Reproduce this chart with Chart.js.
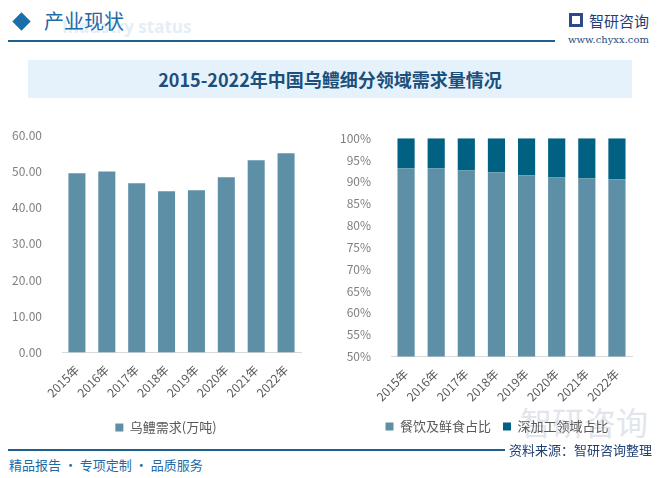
<!DOCTYPE html>
<html>
<head>
<meta charset="utf-8">
<script src="https://cdn.jsdelivr.net/npm/chart.js@4/dist/chart.umd.min.js"></script>
<style>
    html, body {
        margin: 0;
        padding: 0;
        width: 661px;
        height: 478px;
        background: #ffffff;
        overflow: hidden;
        font-family: "Noto Sans CJK SC", sans-serif;
    }

    .abs { position: absolute; }

    #diamond {
        left: 15px; top: 15px;
        width: 13px; height: 13px;
        background: #1a6fa8;
        transform: rotate(45deg);
    }

    #headerGhost {
        left: 62px; top: 15px;
        font: bold 17px "Open Sans", sans-serif;
        color: #e4eef7;
        white-space: nowrap;
    }

    #headerText {
        left: 44px; top: 6px;
        font-size: 20px;
        color: #1f6aa5;
        white-space: nowrap;
    }

    #headerLine {
        left: 8px; top: 40px;
        width: 547px; height: 2px;
        background: #1f5f8f;
    }

    #logoText {
        left: 589px; top: 10px;
        font-size: 15px;
        color: #1f3f77;
        white-space: nowrap;
    }

    #logoIcon {
        left: 569px; top: 13px;
        width: 14px; height: 14px;
        border: 3px solid #2c4a8a;
        box-sizing: border-box;
    }

    #logoUrl {
        left: 568px; top: 34px;
        font: 10px "DejaVu Serif", serif;
        color: #2a4a7a;
        white-space: nowrap;
    }

    #titleBand {
        left: 28px; top: 60px;
        width: 604px; height: 38px;
        background: #e6f2fb;
    }

    #titleText {
        left: 28px; top: 60px;
        width: 604px; height: 38px;
        line-height: 38px;
        text-align: center;
        font-weight: bold;
        font-size: 18px;
        color: #1b4f7c;
        white-space: nowrap;
    }

    #footLine {
        left: 8px; top: 449px;
        width: 497px; height: 2px;
        background: #1f5f8f;
    }

    #footWatermark {
        left: 520px; top: 398px;
        font-size: 32px;
        color: #e2e6ec;
        white-space: nowrap;
    }

    #source {
        left: 509px; top: 440px;
        font-size: 13px;
        color: #1f3f77;
        white-space: nowrap;
    }

    #slogan {
        left: 9px; top: 455px;
        font-size: 13px;
        color: #1f6aa5;
        white-space: nowrap;
    }
</style>
</head>
<body>

<div class="abs" id="diamond"></div>
<div class="abs" id="headerGhost">Industry status</div>
<div class="abs" id="headerText">产业现状</div>
<div class="abs" id="headerLine"></div>
<div class="abs" id="logoIcon"></div>
<div class="abs" id="logoText">智研咨询</div>
<div class="abs" id="logoUrl">www.chyxx.com</div>

<div class="abs" id="titleBand"></div>
<div class="abs" id="titleText">2015-2022年中国乌鳢细分领域需求量情况</div>

<div class="abs" id="footWatermark">智研咨询</div>

<canvas class="abs" id="demandChart" width="332" height="328" style="left:0px;top:116px;"></canvas>
<canvas class="abs" id="shareChart" width="344" height="324" style="left:325px;top:119px;"></canvas>

<div class="abs" id="footLine"></div>
<div class="abs" id="source">资料来源：智研咨询整理</div>
<div class="abs" id="slogan">精品报告 · 专项定制 · 品质服务</div>

<script>
    /* =========================
       DATA
    ========================= */

    const years = ['2015年', '2016年', '2017年', '2018年', '2019年', '2020年', '2021年', '2022年'];

    // 乌鳢需求(万吨)
    const demandValues = [49.5, 50.0, 46.7, 44.5, 44.8, 48.4, 53.1, 55.0];

    // 占比 (%)
    const foodShare = [93.1, 93.1, 92.6, 92.2, 91.5, 91.0, 90.8, 90.6];
    const processingShare = [6.9, 6.9, 7.4, 7.8, 8.5, 9.0, 9.2, 9.4];

    const demandTicks = { min: 0, max: 60, step: 10 };
    const shareTicks = { min: 50, max: 100, step: 5 };

    const LIGHT_BAR = '#5d8fa7';
    const DARK_BAR = '#016182';

    /* =========================
       SHARED STYLE
    ========================= */

    const FONT = '"Noto Sans CJK SC", sans-serif';

    function xAxis(extraSpace) {
        return {
            stacked: true,
            grid: { display: false },
            border: { display: true, color: '#d9d9d9' },
            afterFit(scale) { scale.height += extraSpace; },
            ticks: {
                color: '#595959',
                font: { family: FONT, size: 12 },
                minRotation: 45,
                maxRotation: 45,
                padding: 2
            }
        };
    }

    function legend() {
        return {
            position: 'bottom',
            labels: {
                color: '#595959',
                boxWidth: 8,
                boxHeight: 8,
                padding: 12,
                font: { family: FONT, size: 13 }
            }
        };
    }

    function yAxis(width, extra) {
        return Object.assign({
            grid: { display: false },
            border: { display: false },
            afterFit(scale) { scale.width = width; }
        }, extra);
    }

    // empty axis on the right: keeps the plot narrow while the legend
    // centres over the whole canvas, as in the original
    function spacerAxis(width) {
        return {
            position: 'right',
            grid: { display: false },
            border: { display: false },
            ticks: { display: false },
            afterFit(scale) { scale.width = width; }
        };
    }

    /* =========================
       LEFT: DEMAND
    ========================= */

    new Chart(document.getElementById('demandChart').getContext('2d'), {
        type: 'bar',
        data: {
            labels: years,
            datasets: [{
                label: '乌鳢需求(万吨)',
                data: demandValues,
                backgroundColor: LIGHT_BAR,
                barPercentage: 0.57,
                categoryPercentage: 1
            }]
        },
        options: {
            responsive: false,
            devicePixelRatio: 1,
            animation: false,
            layout: { padding: { top: 10, right: 0, bottom: 0, left: 0 } },
            plugins: {
                legend: legend(),
                tooltip: { enabled: false }
            },
            scales: {
                x: xAxis(7),
                y: yAxis(62, {
                    min: demandTicks.min,
                    max: demandTicks.max,
                    ticks: {
                        stepSize: demandTicks.step,
                        padding: 12,
                        color: '#7f7f7f',
                        font: { family: FONT, size: 12 },
                        callback: v => Number(v).toFixed(2)
                    }
                }),
                spacer: spacerAxis(31)
            }
        }
    });

    /* =========================
       RIGHT: SHARE
    ========================= */

    new Chart(document.getElementById('shareChart').getContext('2d'), {
        type: 'bar',
        data: {
            labels: years,
            datasets: [
                {
                    label: '餐饮及鲜食占比',
                    data: foodShare,
                    backgroundColor: LIGHT_BAR,
                    barPercentage: 0.57,
                    categoryPercentage: 1
                },
                {
                    label: '深加工领域占比',
                    data: processingShare,
                    backgroundColor: DARK_BAR,
                    barPercentage: 0.57,
                    categoryPercentage: 1
                }
            ]
        },
        options: {
            responsive: false,
            devicePixelRatio: 1,
            animation: false,
            layout: { padding: { top: 10, right: 0, bottom: 0, left: 0 } },
            plugins: {
                legend: legend(),
                tooltip: { enabled: false }
            },
            scales: {
                x: xAxis(2),
                y: yAxis(66, {
                    stacked: true,
                    min: shareTicks.min,
                    max: shareTicks.max,
                    ticks: {
                        stepSize: shareTicks.step,
                        padding: 12,
                        color: '#7f7f7f',
                        font: { family: FONT, size: 12 },
                        callback: v => v + '%'
                    }
                }),
                spacer: spacerAxis(37)
            }
        }
    });
</script>
</body>
</html>
